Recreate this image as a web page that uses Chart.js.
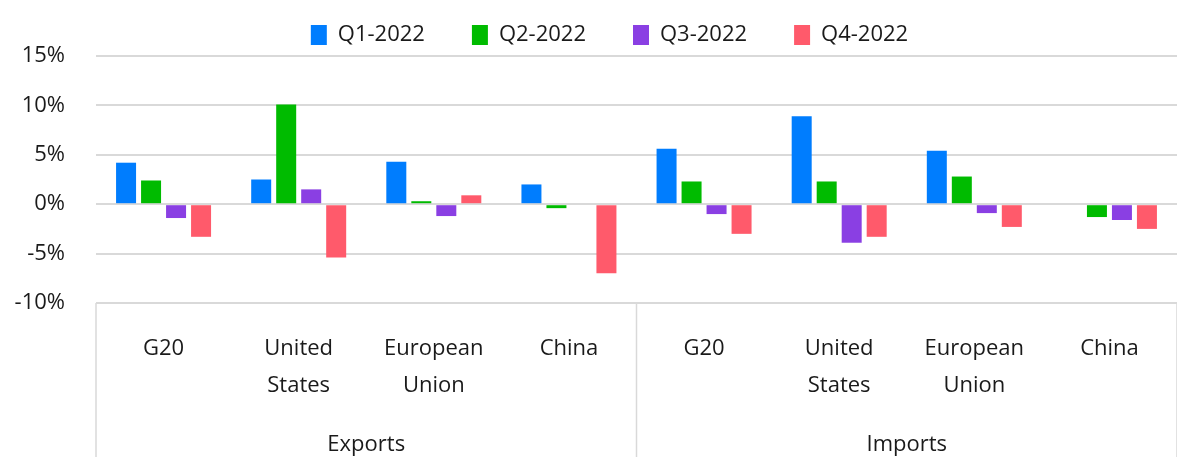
<!DOCTYPE html>
<html>
<head>
<meta charset="utf-8">
<script src="https://cdn.jsdelivr.net/npm/chart.js@4.4.1/dist/chart.umd.min.js"></script>
<style>
  html, body { margin: 0; padding: 0; background: #fff; }
  #wrap { width: 1177px; height: 457px; }
</style>
</head>
<body>
<div id="wrap"><canvas id="tradeChart" width="1177" height="457"></canvas></div>
<script>
const categories = ['G20', ['United', 'States'], ['European', 'Union'], 'China',
                    'G20', ['United', 'States'], ['European', 'Union'], 'China'];
const groups = ['Exports', 'Imports'];
const groupSize = 4;

const q1 = [4.2, 2.5, 4.3, 2.0, 5.6, 8.9, 5.4, -0.1];
const q2 = [2.4, 10.1, 0.3, -0.4, 2.3, 2.3, 2.8, -1.3];
const q3 = [-1.4, 1.5, -1.2, -0.1, -1.0, -3.9, -0.9, -1.6];
const q4 = [-3.3, -5.4, 0.9, -7.0, -3.0, -3.3, -2.3, -2.5];

const yTicks = [-10, -5, 0, 5, 10, 15];

Chart.defaults.font.family = "'Open Sans', sans-serif";
Chart.defaults.font.size = 22;
Chart.defaults.color = '#1a1a1a';

// nudge legend a bit right, like the original
const legendShift = {
  id: 'legendShift',
  afterLayout(chart) {
    if (chart.legend) {
      chart.legend.left += 21;
      chart.legend.right += 21;
    }
  }
};

// group labels + separators under the category axis
const groupAxis = {
  id: 'groupAxis',
  afterDraw(chart) {
    const ctx = chart.ctx;
    const x = chart.scales.x;
    const top = chart.chartArea.bottom;
    const bottom = chart.height;
    const bounds = [];
    for (let g = 0; g <= groups.length; g++) {
      const i = g * groupSize;
      let px;
      if (i === 0) px = chart.chartArea.left;
      else if (i >= categories.length) px = chart.chartArea.right;
      else px = (x.getPixelForValue(i - 1) + x.getPixelForValue(i)) / 2;
      bounds.push(px);
    }
    ctx.save();
    ctx.strokeStyle = '#d9d9d9';
    ctx.lineWidth = 1.5;
    bounds.forEach(px => {
      ctx.beginPath();
      ctx.moveTo(px, top);
      ctx.lineTo(px, bottom);
      ctx.stroke();
    });
    ctx.fillStyle = '#1a1a1a';
    ctx.font = "22px 'Open Sans', sans-serif";
    ctx.textAlign = 'center';
    ctx.textBaseline = 'middle';
    groups.forEach((name, g) => {
      ctx.fillText(name, (bounds[g] + bounds[g + 1]) / 2, 445);
    });
    ctx.restore();
  }
};

new Chart(document.getElementById('tradeChart'), {
  type: 'bar',
  data: {
    labels: categories,
    datasets: [
      { label: 'Q1-2022', data: q1, backgroundColor: '#007dfe' },
      { label: 'Q2-2022', data: q2, backgroundColor: '#00bb00' },
      { label: 'Q3-2022', data: q3, backgroundColor: '#8a3fe3' },
      { label: 'Q4-2022', data: q4, backgroundColor: '#ff5a6b' }
    ]
  },
  options: {
    responsive: false,
    animation: false,
    layout: { padding: { left: 0, top: -23, right: 0, bottom: 0 } },
    datasets: { bar: { categoryPercentage: 0.74, barPercentage: 0.8 } },
    plugins: {
      legend: {
        position: 'top',
        labels: { boxWidth: 16, boxHeight: 20, padding: 47, font: { size: 22 } }
      },
      tooltip: { enabled: false }
    },
    scales: {
      x: {
        grid: { display: false },
        border: { display: false },
        ticks: { padding: 19, maxRotation: 0, autoSkip: false, font: { size: 22, lineHeight: 1.7 } },
        afterFit(scale) { scale.height = 154; }
      },
      y: {
        min: -10,
        max: 15,
        afterBuildTicks(scale) { scale.ticks = yTicks.map(v => ({ value: v })); },
        ticks: { padding: 31, callback: v => v + '%', font: { size: 22 } },
        grid: { color: '#d9d9d9', lineWidth: 2, drawTicks: false },
        border: { display: false },
        afterFit(scale) { scale.width = 96; }
      }
    }
  },
  plugins: [legendShift, groupAxis]
});
</script>
</body>
</html>
